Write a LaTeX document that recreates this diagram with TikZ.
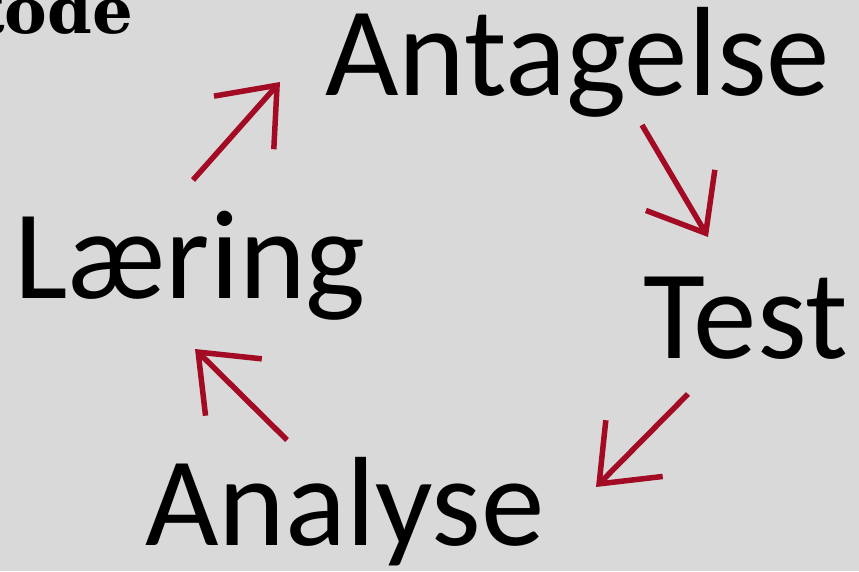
\documentclass[tikz,border=0pt]{standalone}
\usepackage{fontspec}
\setmainfont{Carlito}
\newfontfamily\headingfont{DejaVu Serif}
\usetikzlibrary{arrows.meta}
\definecolor{slidegray}{HTML}{D9D9D9}
\definecolor{cyclered}{HTML}{A20B23}

\tikzset{
  step word/.style={font=\fontsize{127}{127}\selectfont, inner sep=0pt, anchor=base west},
  cycle arrow/.style={cyclered, line width=5.5pt,
    -{Straight Barb[length=50pt, width=80pt, line width=5.5pt]}}
}

\begin{document}
\begin{tikzpicture}[x=1pt, y=-1pt]
  % Slide background
  \fill[slidegray] (0,0) rectangle (859,571);
  \useasboundingbox (0,0) rectangle (859,571);
  % Heading cut off at the corner
  \node[anchor=base west, inner sep=0pt,
        font=\headingfont\bfseries\fontsize{64}{64}\selectfont]
    (heading) at (-25,33) {tode};
  % The four steps
  \node[step word] (antagelse) at (325,95) {Antagelse};
  \node[step word] (test) at (643,358) {Test};
  \node[step word] (analyse) at (145,545) {Analyse};
  \node[step word] (laering) at (14,298) {Læring};
  % Arrow ends
  \coordinate (la-s) at (193,180);
  \coordinate (la-e) at (280,82);
  \coordinate (at-s) at (642,125);
  \coordinate (at-e) at (708,237);
  \coordinate (ta-s) at (688,394);
  \coordinate (ta-e) at (596,487);
  \coordinate (al-s) at (287,440);
  \coordinate (al-e) at (195,349);
  % Cycle
  \draw[cycle arrow] (la-s) -- (la-e);
  \draw[cycle arrow] (at-s) -- (at-e);
  \draw[cycle arrow] (ta-s) -- (ta-e);
  \draw[cycle arrow] (al-s) -- (al-e);
\end{tikzpicture}
\end{document}
